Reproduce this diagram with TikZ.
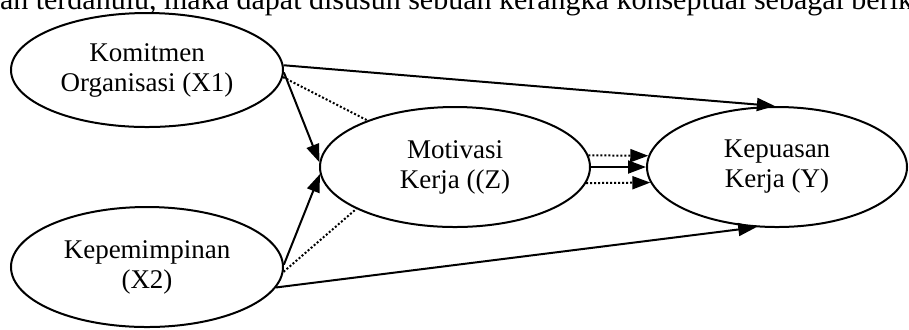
\documentclass[tikz,border=0pt]{standalone}
\usepackage{fontspec}
\setmainfont{Liberation Serif}
\usetikzlibrary{arrows.meta,shapes.geometric}
\begin{document}
\begin{tikzpicture}  % ------ Kerangka konseptual : X1, X2 -> Z -> Y --------
      [x=0.5pt,y=-0.5pt, line width=1pt,
       var/.style={ellipse,draw,line width=1pt,inner sep=0pt,align=center,
                   font=\fontsize{13.5}{15}\selectfont},
       arr/.style={-{Triangle[length=9pt,width=6.5pt]}},
       dot/.style={dash pattern=on 1pt off 1pt}]
    \useasboundingbox (0,0) rectangle (909,329);
    \node[anchor=base west,inner sep=0pt,font=\fontsize{15}{17}\selectfont] (kalimat) at (-1,9)
         {an terdahulu, maka dapat disusun sebuah kerangka konseptual sebagai berikut};
    \node[var,minimum width=136pt,minimum height=57pt] (x1) at (147,70) {Komitmen\\Organisasi (X1)};
    \node[var,minimum width=136pt,minimum height=60pt] (x2) at (147,267) {Kepemimpinan\\(X2)};
    \node[var,minimum width=135pt,minimum height=60pt] (z) at (455,167) {Motivasi\\Kerja ((Z)};
    \node[var,minimum width=130pt,minimum height=60pt] (y) at (777,167) {Kepuasan\\Kerja (Y)};
    \draw[arr] (x1.2) -- (y.92) ;  % X1 -> Y
    \draw[arr] (x1.-1) -- (z.178) ;  % X1 -> Z
    \draw[dot] (x1.-3) -- (z.152) ;
    \draw[arr] (x2.1) -- (z.183) ;  % X2 -> Z
    \draw[dot] (x2.-2) -- (z.203) ;
    \draw[arr] (x2.-9) -- (y.251) ;  % X2 -> Y
    \draw[arr,dot] (z.5) -- (y.175) ;  % Z -> Y
    \draw[arr] (z.east) -- (y.west) ;
    \draw[arr,dot] (z.-7) -- (y.187) ;
\end{tikzpicture}
\end{document}
